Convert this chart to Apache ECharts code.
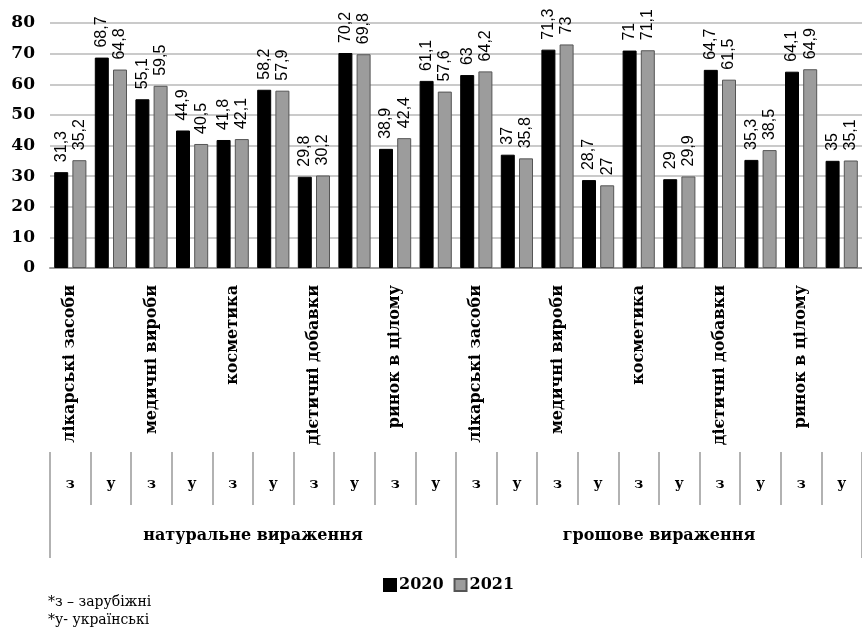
<!DOCTYPE html>
<html>
<head>
<meta charset="utf-8">
<script src="https://cdn.jsdelivr.net/npm/echarts@6/dist/echarts.min.js"></script>
<style>html,body{margin:0;padding:0;background:#fff;}#chart{width:862px;height:630px;}</style>
</head>
<body>
<div id="chart"></div>
<script>
// ---- data ----
const productNames = ['лікарські засоби', 'медичні вироби', 'косметика', 'дієтичні добавки', 'ринок в цілому'];
const groupNames = ['натуральне вираження', 'грошове вираження'];
const originCodes = ['з', 'у'];
const seriesNames = ['2020', '2021'];
const values2020 = [31.3, 68.7, 55.1, 44.9, 41.8, 58.2, 29.8, 70.2, 38.9, 61.1,
                    63, 37, 71.3, 28.7, 71, 29, 64.7, 35.3, 64.1, 35];
const values2021 = [35.2, 64.8, 59.5, 40.5, 42.1, 57.9, 30.2, 69.8, 42.4, 57.6,
                    64.2, 35.8, 73, 27, 71.1, 29.9, 61.5, 38.5, 64.9, 35.1];
const yTicks = [0, 10, 20, 30, 40, 50, 60, 70, 80];
const footnotes = ['*з – зарубіжні', '*у- українські'];

// ---- derived category lists ----
const catNames = [];
const catCodes = [];
groupNames.forEach(function () {
  productNames.forEach(function (p) {
    originCodes.forEach(function (c, i) {
      catNames.push(i === 0 ? p : '');
      catCodes.push(c);
    });
  });
});

const serifB = 'DejaVu Serif';
const fmt = function (p) { return String(p.value).replace('.', ','); };
const labelCfg = {
  show: true, position: 'top', rotate: 90, align: 'left', verticalAlign: 'middle',
  distance: 10, fontSize: 16, fontFamily: 'Liberation Sans', color: '#000', formatter: fmt
};

const chart = echarts.init(document.getElementById('chart'), null, {renderer: 'canvas'});
chart.setOption({
  backgroundColor: '#fff',
  animation: false,
  grid: {left: 50, right: -6, top: 23, bottom: 362, containLabel: false},
  legend: {
    data: seriesNames, left: 378, top: 572, itemWidth: 12, itemHeight: 12, itemGap: 10,
    icon: 'rect',
    textStyle: {fontFamily: serifB, fontWeight: 'bold', fontSize: 16, color: '#000', padding: [0, 0, 0, -2]}
  },
  xAxis: [
    {
      type: 'category', data: catNames, boundaryGap: true,
      axisLine: {show: true, lineStyle: {color: '#999', width: 2}},
      axisTick: {show: false},
      axisLabel: {interval: 0, rotate: 90, margin: 17, fontFamily: serifB, fontWeight: 'bold',
                  fontSize: 16, color: '#000'}
    },
    {
      type: 'category', data: catCodes, position: 'bottom', offset: 184, boundaryGap: true,
      axisLine: {show: false},
      axisTick: {show: true, interval: 0, length: 53, lineStyle: {color: '#999', width: 1.5}},
      axisLabel: {interval: 0, margin: 25, fontFamily: serifB, fontWeight: 'bold', fontSize: 14, color: '#000'}
    },
    {
      type: 'category', data: groupNames, position: 'bottom', offset: 184, boundaryGap: true,
      axisLine: {show: false},
      axisTick: {show: true, interval: 0, length: 106, lineStyle: {color: '#999', width: 1.5}},
      axisLabel: {interval: 0, margin: 76, fontFamily: serifB, fontWeight: 'bold', fontSize: 16, color: '#000'}
    }
  ],
  yAxis: {
    type: 'value', min: yTicks[0], max: yTicks[yTicks.length - 1], interval: 10,
    axisLine: {show: false}, axisTick: {show: false},
    axisLabel: {margin: 15, fontFamily: serifB, fontWeight: 'bold', fontSize: 17, color: '#000'},
    splitLine: {lineStyle: {color: '#b8b8b8', width: 1.5}}
  },
  series: [
    {
      name: seriesNames[0], type: 'bar', xAxisIndex: 0, data: values2020,
      barWidth: 14, barGap: '30%',
      itemStyle: {color: '#000', borderColor: '#000', borderWidth: 1},
      label: labelCfg
    },
    {
      name: seriesNames[1], type: 'bar', xAxisIndex: 0, data: values2021,
      barWidth: 14, barGap: '30%',
      itemStyle: {color: '#9c9c9c', borderColor: '#555', borderWidth: 1},
      label: labelCfg
    }
  ],
  graphic: [
    {type: 'text', left: 48, top: 595, style: {text: footnotes[0], font: '14px "DejaVu Serif"', fill: '#000'}},
    {type: 'text', left: 48, top: 613, style: {text: footnotes[1], font: '14px "DejaVu Serif"', fill: '#000'}}
  ]
});
</script>
</body>
</html>
